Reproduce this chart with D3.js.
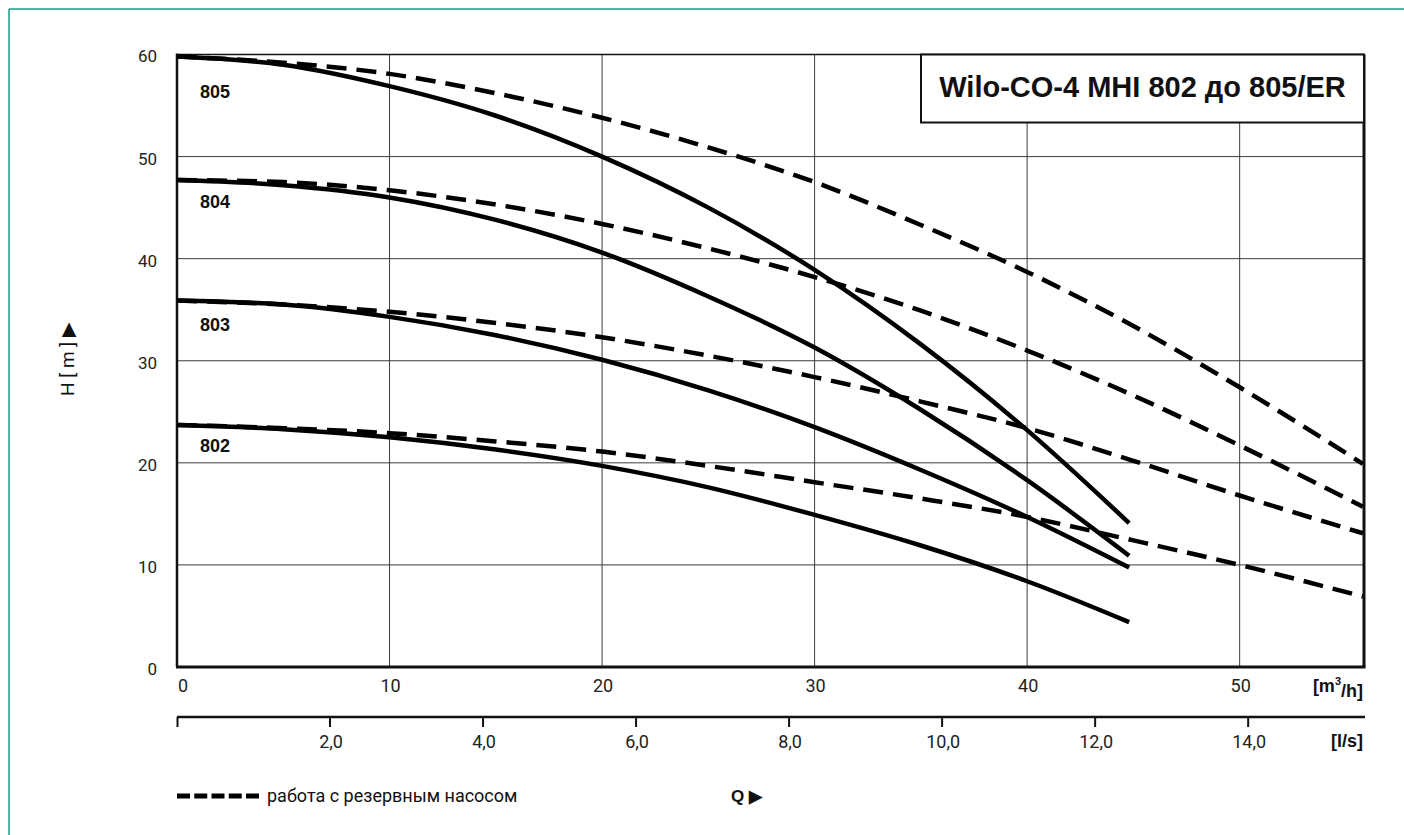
<!DOCTYPE html>
<html>
<head>
<meta charset="utf-8">
<script src="https://cdn.jsdelivr.net/npm/d3@7"></script>
<style>
  html, body { margin: 0; padding: 0; background: #fff; }
  svg { display: block; }
  .tick { font-family: Roboto, "Liberation Sans", Arial, sans-serif; }
</style>
</head>
<body>
<svg id="chart" width="1404" height="835"></svg>
<script>
// Flow rates (m³/h) at which the pump curves are sampled
const qSingle  = [0, 5, 10, 15, 20, 25, 30, 35, 40, 44.8];
const qReserve = [0, 5, 10, 15, 20, 25, 30, 35, 40, 45, 50, 55.8];

// Head H [m] for each model, normal operation
const h802 = [23.7, 23.3, 22.5, 21.3, 19.7, 17.6, 14.9, 11.9, 8.4, 4.4];
const h803 = [35.9, 35.5, 34.3, 32.5, 30.1, 27.1, 23.5, 19.3, 14.7, 9.75];
const h804 = [47.7, 47.2, 46.0, 43.8, 40.6, 36.3, 31.3, 25.2, 18.3, 10.9];
const h805 = [59.8, 59.0, 56.9, 54.0, 50.0, 45.0, 38.9, 31.6, 23.2, 14.1];

// Head H [m] with the reserve pump running
const h802r = [23.7, 23.4, 22.9, 22.1, 21.1, 19.7, 18.1, 16.5, 14.7, 12.4, 10.0, 6.9];
const h803r = [35.9, 35.5, 34.8, 33.7, 32.3, 30.5, 28.4, 26.0, 23.4, 20.2, 16.8, 13.1];
const h804r = [47.7, 47.5, 46.7, 45.3, 43.4, 41.0, 38.2, 34.9, 31.0, 26.6, 21.7, 15.7];
const h805r = [59.8, 59.2, 58.1, 56.2, 53.8, 50.9, 47.5, 43.3, 38.7, 33.4, 27.4, 19.9];

const models = ["802", "803", "804", "805"];
const modelLabelH = [21.1, 32.9, 45.0, 55.7];   // head at which each model name sits

const yTicks  = [0, 10, 20, 30, 40, 50, 60];
const qTicks  = [0, 10, 20, 30, 40, 50];
const lsTicks = [0, 2, 4, 6, 8, 10, 12, 14];
const lsTickLabels = ["", "2,0", "4,0", "6,0", "8,0", "10,0", "12,0", "14,0"];

const titleText  = "Wilo-CO-4 MHI 802 до 805/ER";
const legendText = "работа с резервным насосом";

const single  = [h802, h803, h804, h805];
const reserve = [h802r, h803r, h804r, h805r];

const svg = d3.select("#chart");
const Q_MAX = 55.85;
const x  = d3.scaleLinear().domain([0, Q_MAX]).range([177, 1364]);
const xl = d3.scaleLinear().domain([0, Q_MAX / 3.6]).range([177, 1364]);
const y  = d3.scaleLinear().domain([0, 60]).range([667, 54.5]);

// outer page frame
svg.append("line").attr("x1", 9).attr("x2", 1404).attr("y1", 9).attr("y2", 9)
  .attr("stroke", "#179c87").attr("stroke-width", 1.5);
svg.append("line").attr("x1", 9).attr("x2", 9).attr("y1", 9).attr("y2", 835)
  .attr("stroke", "#179c87").attr("stroke-width", 1.5);

// grid
const grid = svg.append("g");
grid.selectAll("line.v").data(qTicks.filter(d => d > 0)).join("line")
  .attr("x1", d => x(d)).attr("x2", d => x(d))
  .attr("y1", y(60)).attr("y2", y(0))
  .attr("stroke", "#3c3c3c").attr("stroke-width", 1);
grid.selectAll("line.h").data(yTicks.filter(d => d > 0 && d < 60)).join("line")
  .attr("x1", x(0)).attr("x2", x(Q_MAX))
  .attr("y1", d => y(d)).attr("y2", d => y(d))
  .attr("stroke", "#3c3c3c").attr("stroke-width", 1);

// plot frame
svg.append("line").attr("x1", x(0)).attr("x2", x(Q_MAX)).attr("y1", y(60)).attr("y2", y(60))
  .attr("stroke", "#111").attr("stroke-width", 1.5);
svg.append("line").attr("x1", x(0)).attr("x2", x(0)).attr("y1", y(60) - 1).attr("y2", y(0))
  .attr("stroke", "#111").attr("stroke-width", 2.5);
svg.append("line").attr("x1", x(Q_MAX)).attr("x2", x(Q_MAX)).attr("y1", y(60)).attr("y2", y(0))
  .attr("stroke", "#111").attr("stroke-width", 3);
svg.append("line").attr("x1", x(0) - 1).attr("x2", x(Q_MAX) + 1.5).attr("y1", y(0)).attr("y2", y(0))
  .attr("stroke", "#111").attr("stroke-width", 3);

// curves
const line = d3.line().curve(d3.curveMonotoneX);
const curves = svg.append("g").attr("fill", "none").attr("stroke", "#000")
  .attr("stroke-width", 4.5).attr("stroke-linejoin", "round");
reserve.forEach(hs => {
  curves.append("path")
    .attr("d", line(qReserve.map((q, i) => [x(q), y(hs[i])])))
    .attr("stroke-dasharray", "20,10");
});
single.forEach(hs => {
  curves.append("path")
    .attr("d", line(qSingle.map((q, i) => [x(q), y(hs[i])])));
});

// model names
svg.selectAll("text.model").data(models).join("text")
  .attr("x", 200).attr("y", (d, i) => y(modelLabelH[i]))
  .attr("font-family", "'Liberation Sans', Arial, sans-serif")
  .attr("font-weight", "bold").attr("font-size", 18).attr("fill", "#111")
  .text(d => d);

// title box
svg.append("rect").attr("x", 921).attr("y", y(60)).attr("width", x(Q_MAX) - 921).attr("height", 68)
  .attr("fill", "#fff").attr("stroke", "#111").attr("stroke-width", 2);
svg.append("text").attr("x", (921 + x(Q_MAX)) / 2).attr("y", 97)
  .attr("text-anchor", "middle")
  .attr("font-family", "'Liberation Sans', Arial, sans-serif")
  .attr("font-weight", "bold").attr("font-size", 29).attr("fill", "#111")
  .text(titleText);

// y tick labels
svg.selectAll("text.ytick").data(yTicks).join("text")
  .attr("class", "tick")
  .attr("x", 157).attr("y", d => y(d) + 2).attr("dy", "0.35em")
  .attr("text-anchor", "end")
  .attr("font-size", 17).attr("fill", "#222")
  .text(d => d);

// y title
svg.append("text")
  .attr("class", "tick")
  .attr("transform", "translate(67,359) rotate(-90)")
  .attr("text-anchor", "middle").attr("dy", "0.35em")
  .attr("font-size", 19).attr("fill", "#111")
  .text("H [ m ] ▶");

// m³/h tick labels
svg.selectAll("text.qtick").data(qTicks).join("text")
  .attr("class", "tick")
  .attr("x", d => d === 0 ? x(0) + 1 : x(d) + 1).attr("y", 686).attr("dy", "0.35em")
  .attr("text-anchor", d => d === 0 ? "start" : "middle")
  .attr("font-size", 18).attr("fill", "#222")
  .text(d => d);
const unitQ = svg.append("text").attr("x", 1363).attr("y", 686).attr("dy", "0.35em")
  .attr("text-anchor", "end")
  .attr("font-family", "'Liberation Sans', Arial, sans-serif")
  .attr("font-weight", "bold").attr("font-size", 18).attr("fill", "#111");
unitQ.append("tspan").text("[m");
unitQ.append("tspan").attr("font-size", 11).attr("dy", "-0.7em").text("3");
unitQ.append("tspan").attr("dy", "0.7em").text("/h]");

// l/s axis
svg.append("line").attr("x1", xl(0)).attr("x2", xl(Q_MAX / 3.6) + 1).attr("y1", 717).attr("y2", 717)
  .attr("stroke", "#111").attr("stroke-width", 2.5);
svg.selectAll("line.lstick").data(lsTicks).join("line")
  .attr("x1", d => xl(d) + (d === 0 ? 0.5 : 0)).attr("x2", d => xl(d) + (d === 0 ? 0.5 : 0))
  .attr("y1", 717).attr("y2", 727)
  .attr("stroke", "#111").attr("stroke-width", 2);
svg.selectAll("text.lstext").data(lsTicks).join("text")
  .attr("class", "tick")
  .attr("x", d => xl(d) + 1).attr("y", 742).attr("dy", "0.35em")
  .attr("text-anchor", "middle").attr("font-size", 18).attr("fill", "#222")
  .text((d, i) => lsTickLabels[i]);
svg.append("text").attr("x", 1363).attr("y", 741).attr("dy", "0.35em")
  .attr("text-anchor", "end")
  .attr("font-family", "'Liberation Sans', Arial, sans-serif")
  .attr("font-weight", "bold").attr("font-size", 18).attr("fill", "#111")
  .text("[l/s]");

// legend
svg.append("line").attr("x1", 177).attr("x2", 259).attr("y1", 796).attr("y2", 796)
  .attr("stroke", "#000").attr("stroke-width", 5).attr("stroke-dasharray", "13,4.25");
svg.append("text").attr("class", "tick")
  .attr("x", 267).attr("y", 796).attr("dy", "0.35em")
  .attr("font-size", 18).attr("fill", "#111")
  .text(legendText);
svg.append("text").attr("x", 731).attr("y", 796).attr("dy", "0.35em")
  .attr("font-family", "'Liberation Sans', Arial, sans-serif")
  .attr("font-weight", "bold").attr("font-size", 17).attr("fill", "#111")
  .text("Q ▶");
</script>
</body>
</html>
